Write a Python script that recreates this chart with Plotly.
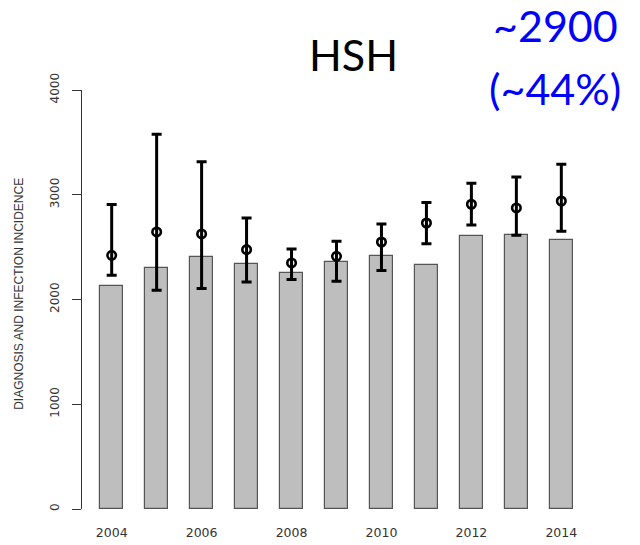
import plotly.graph_objects as go

years = [2004, 2005, 2006, 2007, 2008, 2009, 2010, 2011, 2012, 2013, 2014]
diagnoses = [2126, 2301, 2403, 2343, 2257, 2355, 2415, 2333, 2606, 2619, 2572]
incidence = [2422, 2645, 2626, 2476, 2349, 2412, 2549, 2730, 2909, 2874, 2940]
inc_upper = [2906, 3577, 3316, 2778, 2482, 2556, 2721, 2925, 3109, 3170, 3291]
inc_lower = [2231, 2088, 2104, 2167, 2190, 2174, 2276, 2533, 2711, 2613, 2651]
y_ticks = [0, 1000, 2000, 3000, 4000]
x_ticks = [2004, 2006, 2008, 2010, 2012, 2014]

err_plus = [u - m for u, m in zip(inc_upper, incidence)]
err_minus = [m - l for m, l in zip(incidence, inc_lower)]

fig = go.Figure()
fig.add_trace(go.Bar(
    x=years, y=diagnoses, width=0.517,
    marker=dict(color="#BEBEBE", line=dict(color="#555555", width=1.2)),
    showlegend=False, hoverinfo="skip",
))
fig.add_trace(go.Scatter(
    x=years, y=incidence, mode="markers",
    marker=dict(symbol="circle-open", size=8.5, color="black", line=dict(width=2.6, color="black")),
    error_y=dict(type="data", symmetric=False, array=err_plus, arrayminus=err_minus,
                 color="black", thickness=3, width=5),
    showlegend=False, hoverinfo="skip",
))

# the page places the figure 8px from the top-left corner of the window
OFF = 8
FW, FH = 640 - OFF, 545 - OFF
L, R, T, B = 82 - OFF, 48.5, 89.7 - OFF, 36.3
W = FW - L - R
H = FH - T - B

fig.update_layout(
    template="none",
    width=FW, height=FH,
    margin=dict(l=L, r=R, t=T, b=B, pad=0),
    paper_bgcolor="white", plot_bgcolor="white",
    bargap=0,
    xaxis=dict(range=[2003.34, 2014.66], tickmode="array", tickvals=x_ticks,
               ticktext=[str(v) for v in x_ticks], showgrid=False, zeroline=False,
               showline=False, ticks="", ticklabelstandoff=14, automargin=False,
               tickfont=dict(family="DejaVu Sans", size=12.5, color="#333333")),
    yaxis=dict(range=[0, 4000], tickmode="array", tickvals=y_ticks,
               ticktext=[str(v) for v in y_ticks], showgrid=False, zeroline=False,
               showline=True, linecolor="#333333", linewidth=1, automargin=False,
               ticks="outside", ticklen=9, tickcolor="#333333", tickwidth=1,
               tickangle=-90, ticklabelstandoff=8,
               tickfont=dict(family="DejaVu Sans", size=12, color="#333333")),
)

def px_x(px):
    return (px - OFF - L) / W

def px_y(py):
    return (FH - B - (py - OFF)) / H

fig.add_annotation(text="DIAGNOSIS AND INFECTION INCIDENCE", textangle=-90,
                   xref="paper", yref="paper", x=px_x(19), y=px_y(293.5),
                   xanchor="center", yanchor="middle", showarrow=False,
                   font=dict(family="Liberation Sans", size=12, color="#333333"))
fig.add_annotation(text="HSH", xref="paper", yref="paper", x=px_x(353.5), y=px_y(54),
                   xanchor="center", yanchor="middle", showarrow=False,
                   font=dict(family="Lato", size=43, color="black"))
fig.add_annotation(text="~2900", xref="paper", yref="paper", x=px_x(556), y=px_y(25.5),
                   xanchor="center", yanchor="middle", showarrow=False,
                   font=dict(family="Lato", size=43, color="#0000FF"))
fig.add_annotation(text="(~44%)", xref="paper", yref="paper", x=px_x(555), y=px_y(88),
                   xanchor="center", yanchor="middle", showarrow=False,
                   font=dict(family="Lato", size=43, color="#0000FF"))

fig.write_html("out.html")
